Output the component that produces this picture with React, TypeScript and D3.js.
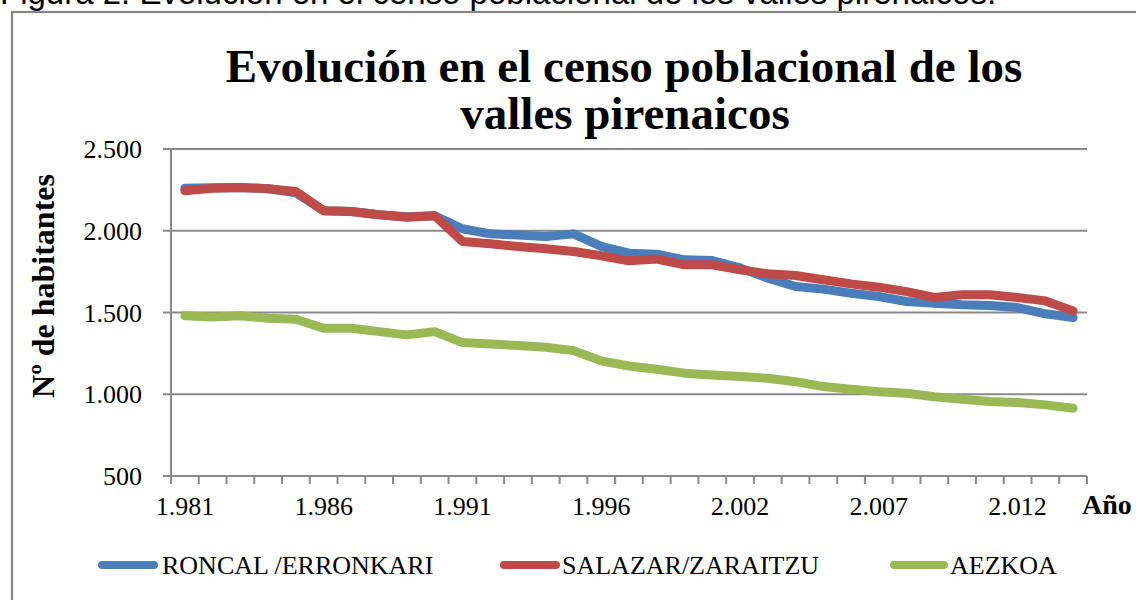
import React, { useEffect, useRef } from 'react';
import * as d3 from 'd3';

// Años del padrón (no hay dato de 1997)
const years = [
  1981, 1982, 1983, 1984, 1985, 1986, 1987, 1988, 1989, 1990, 1991, 1992, 1993, 1994, 1995, 1996,
  1998, 1999, 2000, 2001, 2002, 2003, 2004, 2005, 2006, 2007, 2008, 2009, 2010, 2011, 2012, 2013, 2014
];

const roncal = [
  2260, 2263, 2265, 2257, 2232, 2122, 2118, 2098, 2086, 2092, 2012, 1981, 1974, 1965, 1981, 1904,
  1863, 1857, 1822, 1818, 1773, 1710, 1659, 1643, 1618, 1598, 1567, 1557, 1547, 1543, 1530, 1492, 1469
];

const salazar = [
  2245, 2260, 2265, 2257, 2240, 2122, 2118, 2098, 2082, 2092, 1934, 1920, 1904, 1890, 1873, 1847,
  1816, 1827, 1792, 1792, 1761, 1737, 1726, 1700, 1675, 1655, 1628, 1592, 1608, 1608, 1592, 1571, 1510
];

const aezkoa = [
  1480, 1472, 1480, 1465, 1459, 1404, 1404, 1383, 1363, 1383, 1316, 1308, 1298, 1288, 1267, 1204,
  1173, 1153, 1129, 1118, 1108, 1098, 1077, 1047, 1031, 1016, 1006, 985, 970, 955, 949, 935, 914
];

const yTicks = [500, 1000, 1500, 2000, 2500];
const labelYears = [1981, 1986, 1991, 1996, 2002, 2007, 2012];

const seriesNames = ['RONCAL /ERRONKARI', 'SALAZAR/ZARAITZU', 'AEZKOA'];

const App = () => {
  const svgRef = useRef<SVGSVGElement>(null);

  useEffect(() => {
    const W = 1136;
    const H = 600;
    const serif = "'Liberation Serif', 'Times New Roman', serif";
    const sans = "'Liberation Sans', Arial, sans-serif";
    const gridColor = '#8a8a8a';
    const colors = ['#4a7ebb', '#be4b48', '#98b954'];
    const seriesValues = [roncal, salazar, aezkoa];

    const es = d3.formatLocale({ decimal: ',', thousands: '.', grouping: [3], currency: ['', ' €'] });
    const fmt = es.format(',');

    const svgEl = d3.select(svgRef.current);
    svgEl.selectAll('*').remove();
    const svg = svgEl.attr('width', W).attr('height', H);

    // Pie de figura (cortado arriba) y marco
    svg.append('text')
      .attr('x', 0).attr('y', 4)
      .style('font-family', sans).style('font-size', '33px')
      .text('Figura 2. Evolución en el censo poblacional de los valles pirenaicos.');

    svg.append('rect')
      .attr('x', 12).attr('y', 12).attr('width', 1300).attr('height', 800)
      .attr('fill', '#fff').attr('stroke', '#858585').attr('stroke-width', 2.2);

    // Título
    const title = svg.append('text')
      .attr('text-anchor', 'middle')
      .style('font-family', serif).style('font-size', '47px').style('font-weight', 'bold');
    title.append('tspan').attr('x', 624).attr('y', 82).text('Evolución en el censo poblacional de los');
    title.append('tspan').attr('x', 625).attr('y', 129).text('valles pirenaicos');

    const x = d3.scaleBand<number>().domain(years).range([171, 1087]).paddingInner(0).paddingOuter(0);
    const y = d3.scaleLinear().domain([500, 2500]).range([476, 149]);
    const cx = (yr: number) => (x(yr) as number) + x.bandwidth() / 2;

    // Rejilla
    svg.append('g').selectAll('line')
      .data(yTicks)
      .enter().append('line')
      .attr('x1', 163).attr('x2', 1087)
      .attr('y1', d => y(d)).attr('y2', d => y(d))
      .attr('stroke', gridColor).attr('stroke-width', 2);

    // Eje Y
    svg.append('line')
      .attr('x1', 171).attr('x2', 171).attr('y1', y(2500)).attr('y2', 484)
      .attr('stroke', gridColor).attr('stroke-width', 2);

    svg.append('g').selectAll('text')
      .data(yTicks)
      .enter().append('text')
      .attr('x', 142).attr('y', d => y(d) + 9)
      .attr('text-anchor', 'end')
      .style('font-family', serif).style('font-size', '26px')
      .text(d => fmt(d));

    // Eje X con marcas entre categorías
    const bounds = years.map(yr => x(yr) as number).concat([x.range()[1]]);
    svg.append('g').selectAll('line')
      .data(bounds)
      .enter().append('line')
      .attr('x1', d => d).attr('x2', d => d)
      .attr('y1', y(500)).attr('y2', y(500) + 8)
      .attr('stroke', gridColor).attr('stroke-width', 2);

    svg.append('g').selectAll('text')
      .data(labelYears)
      .enter().append('text')
      .attr('x', d => cx(d)).attr('y', 515)
      .attr('text-anchor', 'middle')
      .style('font-family', serif).style('font-size', '26px')
      .text(d => fmt(d));

    svg.append('text')
      .attr('x', 1082).attr('y', 514)
      .style('font-family', serif).style('font-size', '28px').style('font-weight', 'bold')
      .text('Año');

    svg.append('text')
      .attr('transform', 'translate(54,286) rotate(-90)')
      .attr('text-anchor', 'middle')
      .style('font-family', serif).style('font-size', '32px').style('font-weight', 'bold')
      .text('Nº de habitantes');

    // Series
    const line = d3.line<number>()
      .x((_, i) => cx(years[i]))
      .y(d => y(d));

    seriesValues.forEach((vals, i) => {
      svg.append('path')
        .datum(vals)
        .attr('d', line)
        .attr('fill', 'none')
        .attr('stroke', colors[i])
        .attr('stroke-width', 9)
        .attr('stroke-linejoin', 'round')
        .attr('stroke-linecap', 'round');
    });

    // Leyenda
    const legendX = [[102, 154, 162], [504, 556, 562], [894, 944, 950]];
    seriesNames.forEach((name, i) => {
      const [a, b, t] = legendX[i];
      svg.append('line')
        .attr('x1', a).attr('x2', b).attr('y1', 565).attr('y2', 565)
        .attr('stroke', colors[i]).attr('stroke-width', 8).attr('stroke-linecap', 'round');
      svg.append('text')
        .attr('x', t).attr('y', 574)
        .style('font-family', serif).style('font-size', '26px')
        .text(name);
    });
  }, []);

  return (
    <svg ref={svgRef} style={{ position: 'absolute', left: 0, top: 0, display: 'block' }}></svg>
  );
};

export default App;
